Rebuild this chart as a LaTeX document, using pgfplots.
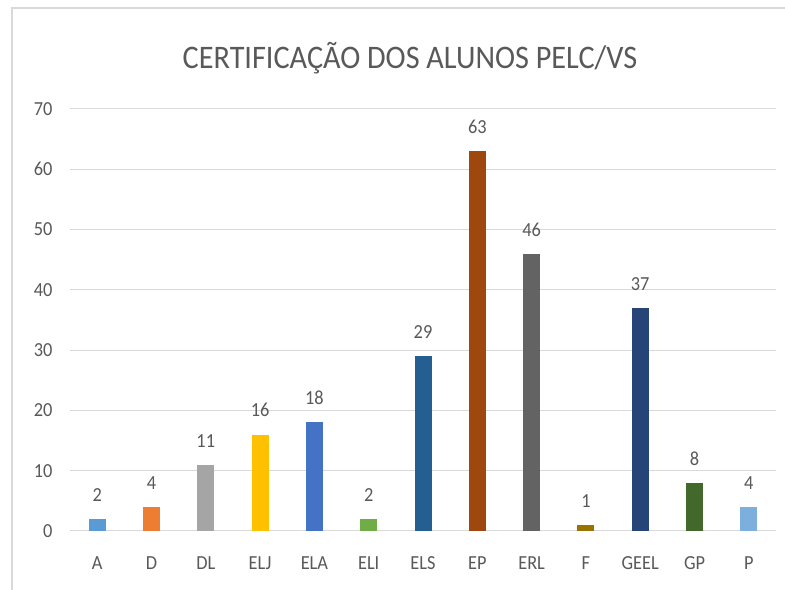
\documentclass[border=0pt]{standalone}
\usepackage{fontspec}
\setmainfont[FakeStretch=0.92]{Carlito}
\usepackage{pgfplots}
\pgfplotsset{compat=1.18}
\definecolor{txt}{HTML}{595959}
\definecolor{gridc}{HTML}{D9D9D9}
\definecolor{cA}{HTML}{5B9BD5}
\definecolor{cD}{HTML}{ED7D31}
\definecolor{cDL}{HTML}{A5A5A5}
\definecolor{cELJ}{HTML}{FFC000}
\definecolor{cELA}{HTML}{4472C4}
\definecolor{cELI}{HTML}{70AD47}
\definecolor{cELS}{HTML}{255E91}
\definecolor{cEP}{HTML}{9E480E}
\definecolor{cERL}{HTML}{636363}
\definecolor{cF}{HTML}{997300}
\definecolor{cGEEL}{HTML}{264478}
\definecolor{cGP}{HTML}{43682B}
\definecolor{cP}{HTML}{7CAFDD}
\begin{document}
\begin{tikzpicture}
\useasboundingbox (0,0) rectangle (785bp,590bp);
\fill[white] (0,0) rectangle (785bp,590bp);
\draw[gridc, line width=1.5bp] (12bp,0) -- (12bp,582bp) -- (785bp,582bp);
\node[txt, font=\fontsize{33}{40}\selectfont] at (410bp,532bp) {CERTIFICAÇÃO DOS ALUNOS PELC/VS};
\begin{axis}[
    at={(70bp,59bp)}, anchor=south west,
    scale only axis,
    width=706bp, height=422bp,
    xmin=-0.5, xmax=12.5,
    ymin=0, ymax=70,
    ytick={0,10,...,70},
    xtick={0,...,12},
    xticklabels={A,D,DL,ELJ,ELA,ELI,ELS,EP,ERL,F,GEEL,GP,P},
    /pgf/number format/assume math mode=true,
    tick label style={txt, font=\fontsize{20}{24}\selectfont},
    major tick length=0pt,
    ymajorgrids,
    grid style={gridc, line width=1bp},
    axis line style={draw=none},
    xticklabel style={yshift=-22bp},
    yticklabel style={xshift=-14bp},
    ybar, bar width=17bp, bar shift=0pt,
    nodes near coords,
    every node near coord/.append style={txt, font=\fontsize{20}{24}\selectfont, yshift=14bp},
    clip=false,
]
\draw[gridc, line width=1bp] (axis cs:-0.5,0) -- (axis cs:12.5,0);
\addplot[fill=cA, draw=none] coordinates {(0,2)};
\addplot[fill=cD, draw=none] coordinates {(1,4)};
\addplot[fill=cDL, draw=none] coordinates {(2,11)};
\addplot[fill=cELJ, draw=none] coordinates {(3,16)};
\addplot[fill=cELA, draw=none] coordinates {(4,18)};
\addplot[fill=cELI, draw=none] coordinates {(5,2)};
\addplot[fill=cELS, draw=none] coordinates {(6,29)};
\addplot[fill=cEP, draw=none] coordinates {(7,63)};
\addplot[fill=cERL, draw=none] coordinates {(8,46)};
\addplot[fill=cF, draw=none] coordinates {(9,1)};
\addplot[fill=cGEEL, draw=none] coordinates {(10,37)};
\addplot[fill=cGP, draw=none] coordinates {(11,8)};
\addplot[fill=cP, draw=none] coordinates {(12,4)};
\end{axis}
\end{tikzpicture}
\end{document}
